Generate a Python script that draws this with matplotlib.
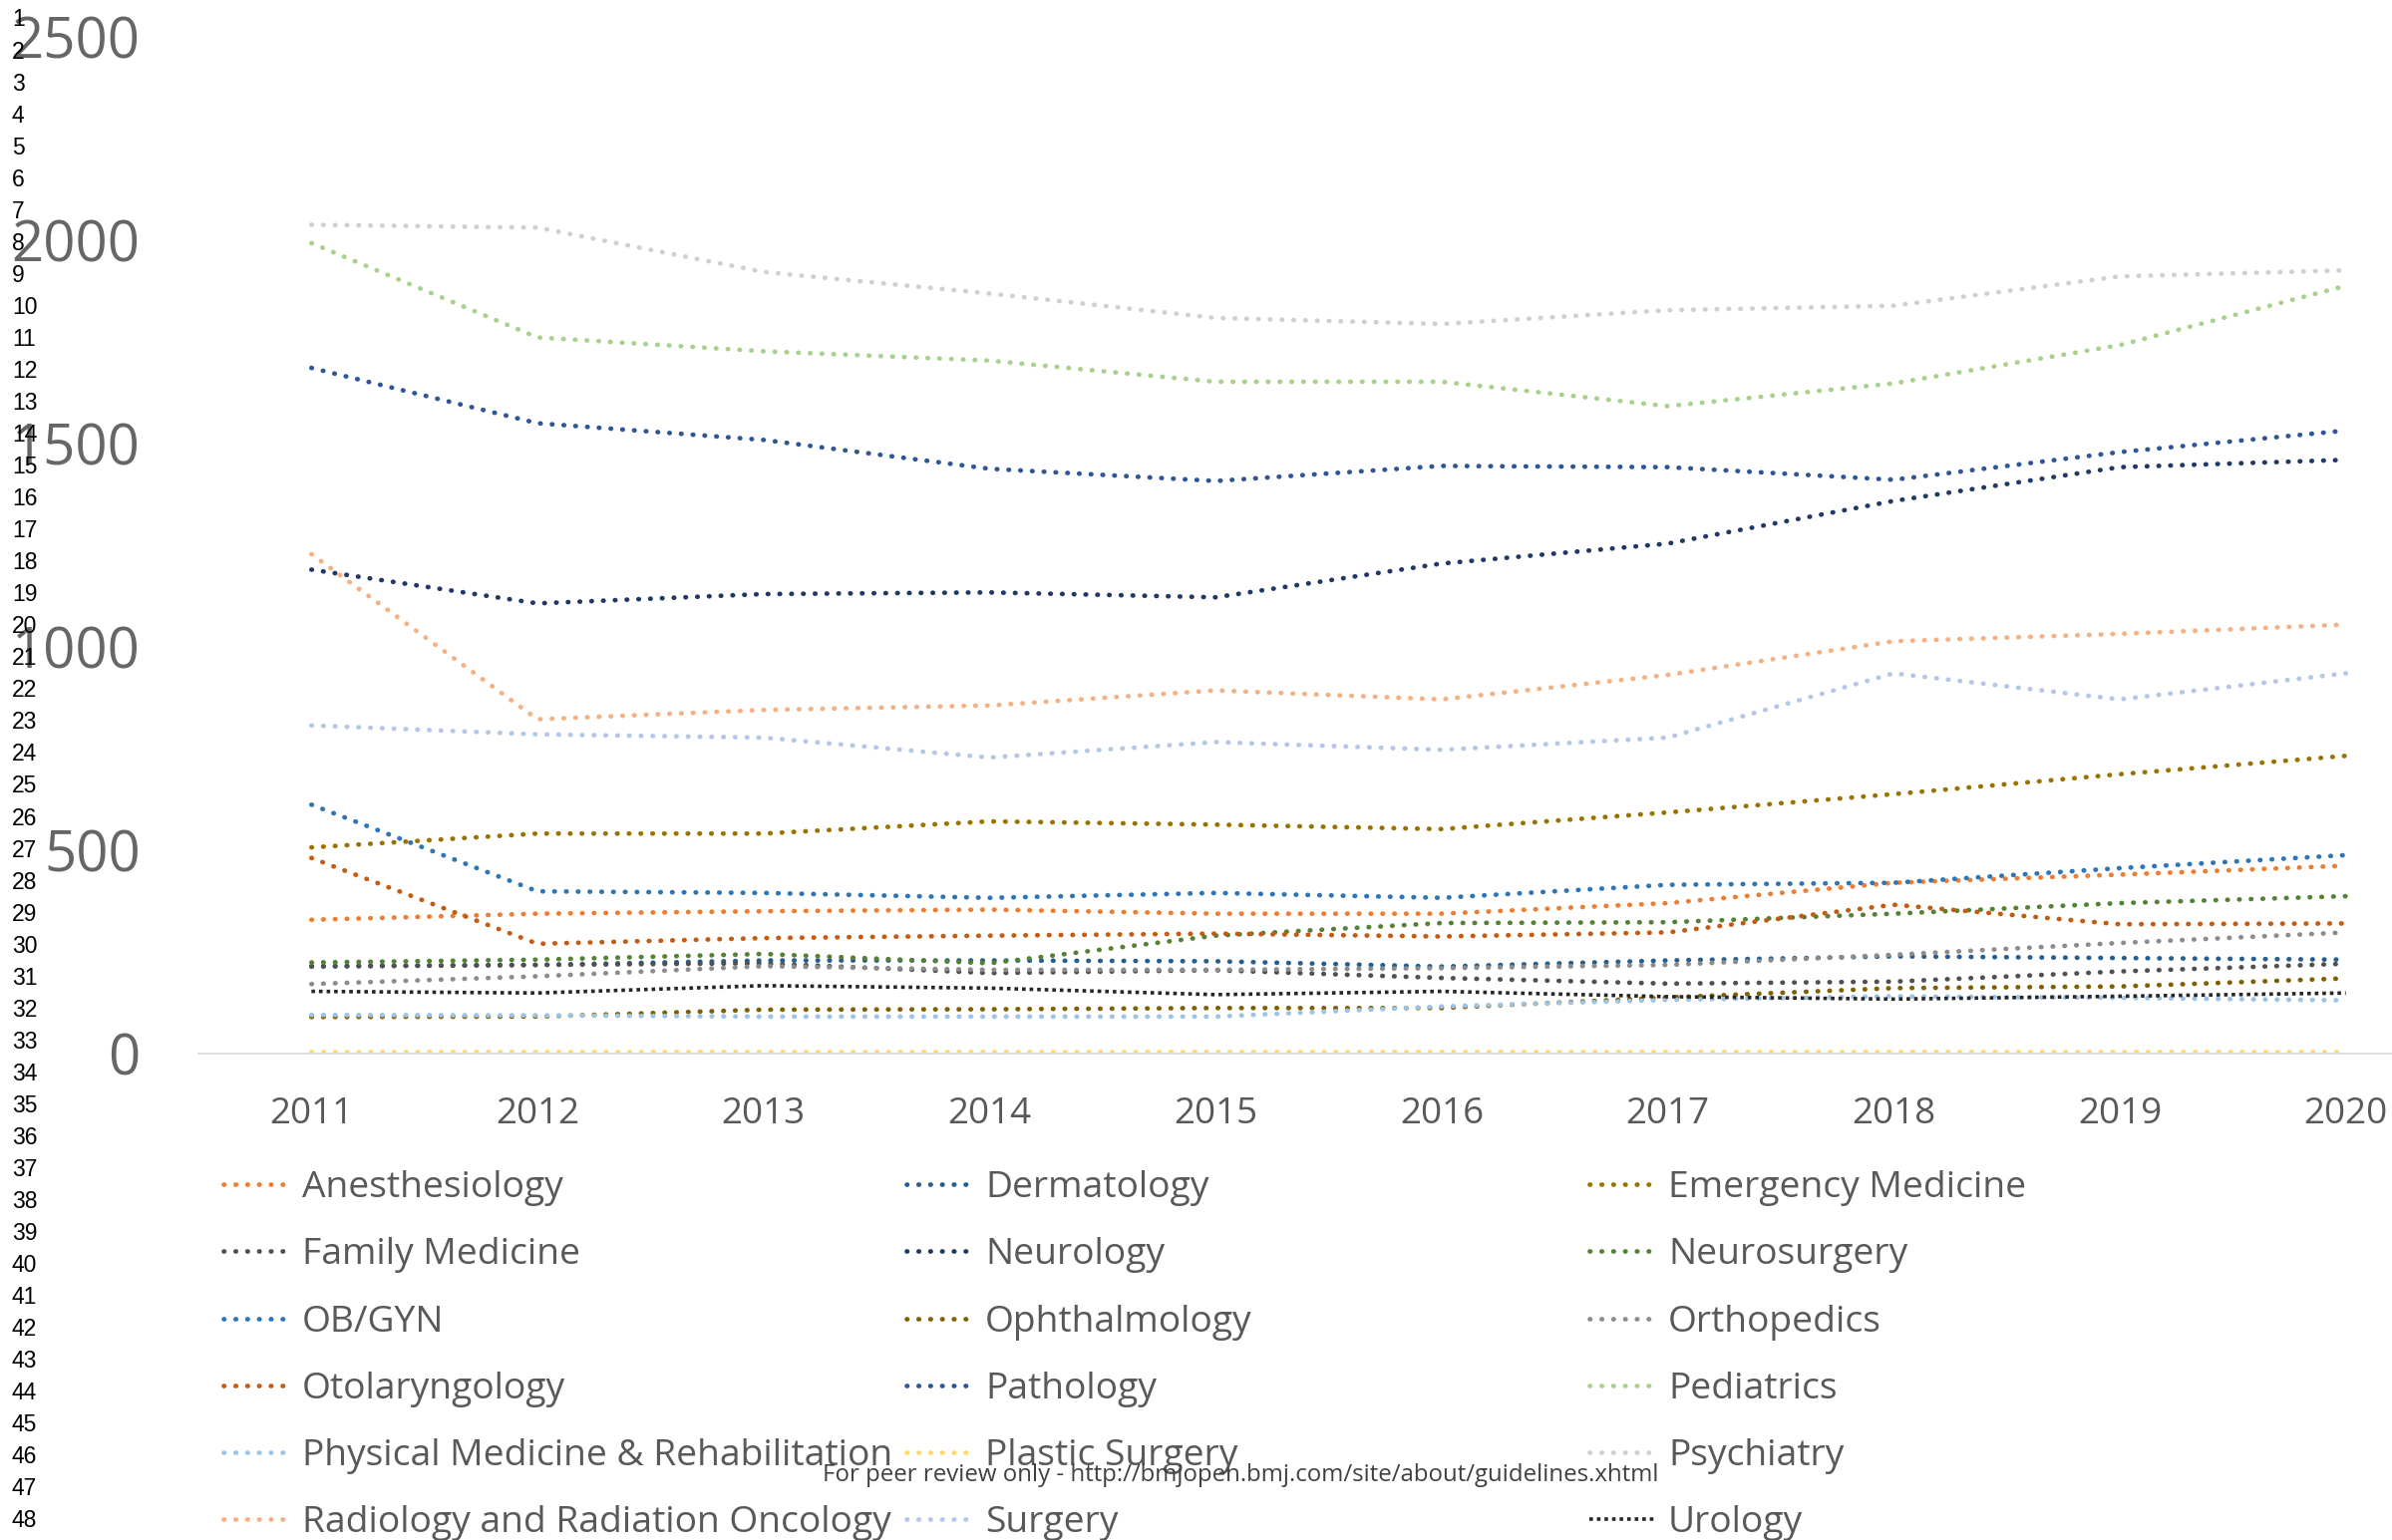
import matplotlib
matplotlib.use("Agg")
import matplotlib.pyplot as plt
from matplotlib.font_manager import FontProperties

# values
years = [2011, 2012, 2013, 2014, 2015, 2016, 2017, 2018, 2019, 2020]

anesthesiology = [329, 344, 350, 354, 344, 344, 370, 420, 440, 462]
dermatology = [214, 218, 229, 229, 227, 214, 229, 239, 235, 231]
emergency_medicine = [507, 541, 541, 571, 563, 552, 593, 638, 687, 732]
family_medicine = [215, 218, 222, 198, 205, 186, 172, 177, 202, 221]
neurology = [1190, 1107, 1130, 1134, 1122, 1205, 1254, 1359, 1442, 1460]
neurosurgery = [224, 231, 245, 222, 290, 321, 323, 344, 370, 387]
ob_gyn = [612, 399, 395, 383, 395, 383, 415, 420, 456, 488]
ophthalmology = [90, 91, 108, 109, 112, 112, 138, 161, 165, 185]
orthopedics = [171, 190, 215, 206, 206, 210, 218, 243, 272, 298]
otolaryngology = [481, 270, 284, 290, 295, 288, 298, 366, 318, 320]
pathology = [1686, 1550, 1509, 1438, 1408, 1445, 1442, 1411, 1479, 1532]
pediatrics = [1993, 1761, 1727, 1704, 1652, 1652, 1592, 1648, 1742, 1888]
pmr = [95, 94, 91, 91, 91, 116, 132, 141, 137, 131]
plastic_surgery = [4, 4, 4, 4, 4, 4, 4, 4, 4, 4]
psychiatry = [2038, 2031, 1922, 1869, 1809, 1794, 1828, 1839, 1911, 1926]
radiology = [1228, 822, 845, 856, 893, 871, 931, 1014, 1032, 1055]
surgery = [807, 785, 777, 728, 766, 747, 777, 935, 871, 935]
urology = [153, 149, 167, 161, 145, 153, 140, 134, 141, 149]

specialties = ["Anesthesiology", "Dermatology", "Emergency Medicine",
               "Family Medicine", "Neurology", "Neurosurgery",
               "OB/GYN", "Ophthalmology", "Orthopedics",
               "Otolaryngology", "Pathology", "Pediatrics",
               "Physical Medicine & Rehabilitation", "Plastic Surgery", "Psychiatry",
               "Radiology and Radiation Oncology", "Surgery", "Urology"]
series = [anesthesiology, dermatology, emergency_medicine,
          family_medicine, neurology, neurosurgery,
          ob_gyn, ophthalmology, orthopedics,
          otolaryngology, pathology, pediatrics,
          pmr, plastic_surgery, psychiatry,
          radiology, surgery, urology]

colors = ["#ED7D31", "#255E91", "#997300",
          "#505050", "#203864", "#548235",
          "#2E75B6", "#7F6000", "#8C8C8C",
          "#C55A11", "#2F5597", "#A9D18E",
          "#9DC3E6", "#FFD966", "#D0D0D0",
          "#F4B183", "#B4C7E7", "#262626"]

W, H = 2399, 1545
fig = plt.figure(figsize=(W / 100, H / 100), dpi=100)

# axes spans past the right edge, like the cropped page
ax_left, ax_right = 199, 2466
ax_top, ax_bot = 37, 1057
ax = fig.add_axes([ax_left / W, 1 - ax_bot / H, (ax_right - ax_left) / W, (ax_bot - ax_top) / H])

lines = []
for name, vals, c in zip(specialties, series, colors):
    if name == "Urology":
        ln, = ax.plot(years, vals, color=c, lw=2.6, linestyle=(0, (1, 1.1)),
                      dash_capstyle="butt", label=name)
    else:
        ln, = ax.plot(years, vals, color=c, lw=3.4, linestyle=(0, (0.1, 2.4)),
                      dash_capstyle="round", label=name)
    lines.append(ln)

ax.set_xlim(2010.5, 2020.5)
ax.set_ylim(0, 2500)
ax.set_xticks(years)
ax.set_yticks(range(0, 2501, 500))
for s in ["top", "right", "left"]:
    ax.spines[s].set_visible(False)
ax.spines["bottom"].set_color("#D9D9D9")
ax.spines["bottom"].set_linewidth(1.2)
ax.tick_params(axis="both", length=0)
ax.tick_params(axis="x", pad=31, labelsize=26.5, labelcolor="#595959")
ax.tick_params(axis="y", pad=42, labelsize=40.5, labelcolor="#666666")
for lab in ax.get_xticklabels() + ax.get_yticklabels():
    lab.set_family("Open Sans")
ax.patch.set_alpha(0)

# legend: three equal-width columns filled row by row
col_x = [224, 909, 1594]
prop = FontProperties(family="Open Sans", size=26.8)
for k in range(3):
    idx = list(range(k, len(specialties), 3))
    leg = fig.legend([lines[i] for i in idx], [specialties[i] for i in idx],
                     loc="upper left", bbox_to_anchor=(col_x[k] / W, 1 - 1174 / H),
                     bbox_transform=fig.transFigure, frameon=False, borderpad=0,
                     borderaxespad=0, handlelength=1.8, handletextpad=0.32,
                     labelspacing=0.84, prop=prop, labelcolor="#595959")

fig.text(1244 / W, 1 - 1480 / H,
         "For peer review only - http://bmjopen.bmj.com/site/about/guidelines.xhtml",
         ha="center", va="center", fontsize=17.3, color="#404040",
         family="Open Sans", zorder=10)

# manuscript line numbers
for i in range(1, 49):
    y = 20 + (i - 1) * 32.04
    fig.text(12 / W, 1 - y / H, str(i), ha="left", va="center",
             fontsize=16.5, color="black", family="Liberation Sans")

fig.savefig("out.png", dpi=100)
